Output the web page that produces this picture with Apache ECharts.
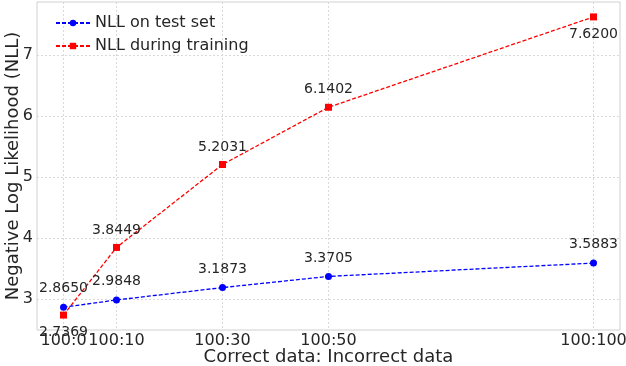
<!DOCTYPE html>
<html>
<head>
<meta charset="utf-8">
<script src="https://cdn.jsdelivr.net/npm/echarts@6/dist/echarts.min.js"></script>
<style>
  html, body { margin: 0; padding: 0; background: #fff; }
  #chart { width: 626px; height: 366px; }
</style>
</head>
<body>
<div id="chart"></div>
<script>
// ratio of incorrect data (the "x" in 100:x)
const ratios = [0, 10, 30, 50, 100];
const nllTest = [2.8650, 2.9848, 3.1873, 3.3705, 3.5883];
const nllTrain = [2.7369, 3.8449, 5.2031, 6.1402, 7.6200];
const yTicks = [3, 4, 5, 6, 7];

const font = 'DejaVu Sans';
const textColor = '#262626';

// training labels sit under the point at both ends
const trainLabelPos = ['bottom', 'top', 'top', 'top', 'bottom'];

const chart = echarts.init(document.getElementById('chart'));
chart.setOption({
  animation: false,
  textStyle: { fontFamily: font },
  grid: {
    left: 37, right: 6, top: 2, bottom: 36,
    outerBoundsMode: 'none', containLabel: false,
    show: true, borderColor: '#d0d0d0', borderWidth: 1, backgroundColor: '#fff'
  },
  legend: {
    orient: 'vertical', left: 50, top: 10, itemWidth: 34, itemHeight: 8, itemGap: 7,
    textStyle: { fontFamily: font, fontSize: 16, color: textColor },
    data: ['NLL on test set', 'NLL during training']
  },
  xAxis: {
    type: 'value', min: -5, max: 105,
    name: 'Correct data: Incorrect data', nameLocation: 'middle', nameGap: 18,
    nameMoveOverlap: false,
    nameTextStyle: { fontFamily: font, fontSize: 18, color: textColor },
    axisLine: { show: false },
    axisTick: { show: false, customValues: ratios },
    axisLabel: {
      customValues: ratios, fontSize: 16, color: textColor, margin: 3,
      formatter: v => '100:' + v
    },
    splitLine: { show: true, lineStyle: { color: '#d9d9d9', type: [2, 2] } }
  },
  yAxis: {
    type: 'value', min: 2.4927, max: 7.8642,
    name: 'Negative Log Likelihood (NLL)', nameLocation: 'middle', nameGap: 15,
    nameMoveOverlap: false,
    nameTextStyle: { fontFamily: font, fontSize: 18, color: textColor },
    axisLine: { show: false },
    axisTick: { show: false, customValues: yTicks },
    axisLabel: { customValues: yTicks, fontSize: 16, color: textColor, margin: 4 },
    splitLine: { show: true, lineStyle: { color: '#d9d9d9', type: [2, 2] } }
  },
  series: [
    {
      name: 'NLL on test set', type: 'line',
      data: ratios.map((x, i) => [x, nllTest[i]]),
      symbol: 'circle', symbolSize: 7,
      itemStyle: { color: '#0000ff' },
      lineStyle: { color: '#0000ff', width: 1.3, type: [4, 2] },
      label: {
        show: true, position: 'top', distance: 8, fontSize: 14, color: textColor,
        formatter: p => p.value[1].toFixed(4)
      },
      z: 3
    },
    {
      name: 'NLL during training', type: 'line',
      data: ratios.map((x, i) => ({
        value: [x, nllTrain[i]],
        label: { position: trainLabelPos[i] }
      })),
      symbol: 'rect', symbolSize: 7,
      itemStyle: { color: '#ff0000' },
      lineStyle: { color: '#ff0000', width: 1.3, type: [4, 2] },
      label: {
        show: true, position: 'top', distance: 7, fontSize: 14, color: textColor,
        formatter: p => p.value[1].toFixed(4)
      },
      z: 2
    }
  ]
});
</script>
</body>
</html>
